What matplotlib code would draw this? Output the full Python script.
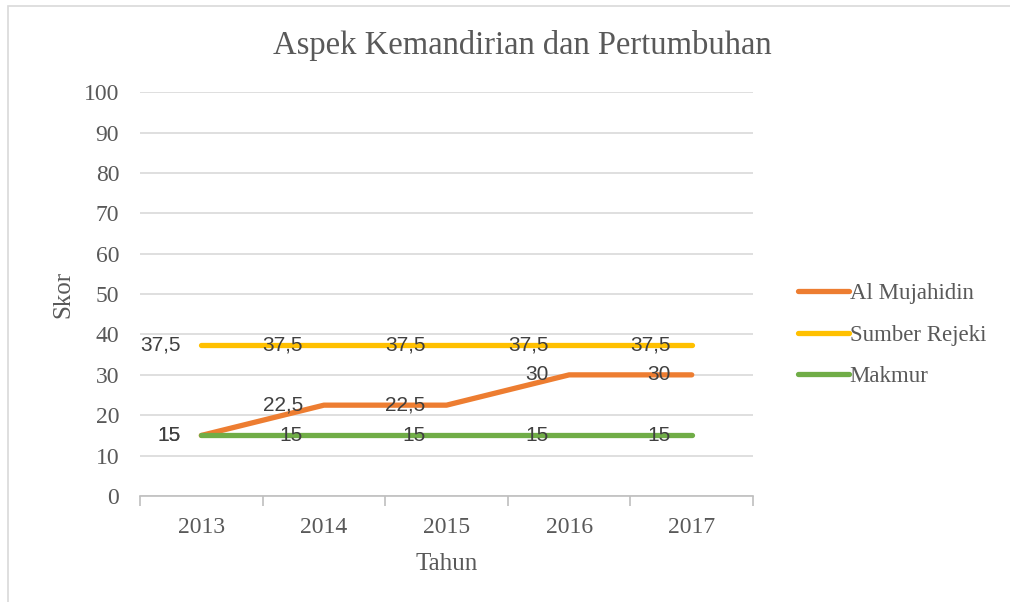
import matplotlib.pyplot as plt
from matplotlib.patches import Rectangle

tahun = ['2013', '2014', '2015', '2016', '2017']
al_mujahidin = [15, 22.5, 22.5, 30, 30]
sumber_rejeki = [37.5, 37.5, 37.5, 37.5, 37.5]
makmur = [15, 15, 15, 15, 15]

seri = [('Al Mujahidin', al_mujahidin, '#ED7D31'),
        ('Sumber Rejeki', sumber_rejeki, '#FFC000'),
        ('Makmur', makmur, '#70AD47')]

abu = '#595959'
serif = ['Liberation Serif', 'DejaVu Serif']
plt.rcParams['font.family'] = serif

fig = plt.figure(figsize=(10.1, 6.02), dpi=100)
ax = fig.add_axes([0.1386, 0.176, 0.607, 0.671])

x = list(range(len(tahun)))
for nama, nilai, warna in seri:
    ax.plot(x, nilai, color=warna, lw=3.8, solid_capstyle='round', label=nama, zorder=3)

# label data di kiri titik
for nama, nilai, warna in seri:
    for i, v in enumerate(nilai):
        lbl = ('%g' % v).replace('.', ',')
        ax.annotate(lbl, (i, v), xytext=(-15, 0), textcoords='offset points',
                    ha='right', va='center', fontsize=15, color='#404040',
                    family=['Liberation Sans Narrow', 'Liberation Sans', 'DejaVu Sans'], zorder=4)

ax.set_xlim(-0.5, 4.5)
ax.set_ylim(0, 100)
ax.set_yticks(range(0, 101, 10))
ax.set_xticks(x)
ax.set_xticklabels(tahun)
ax.set_xticks([i - 0.5 for i in range(6)], minor=True)
ax.grid(axis='y', color='#d9d9d9', lw=1.2)
ax.set_axisbelow(True)
for s in ['top', 'right', 'left']:
    ax.spines[s].set_visible(False)
ax.spines['bottom'].set_color('#bfbfbf')
ax.spines['bottom'].set_linewidth(1.2)
ax.tick_params(axis='y', length=0, labelsize=17, labelcolor=abu, pad=15)
ax.tick_params(axis='x', which='major', length=0, labelsize=17, labelcolor=abu, pad=15)
ax.tick_params(axis='x', which='minor', length=7, color='#bfbfbf', width=1.2)

ax.set_xlabel('Tahun', fontsize=18, color=abu, labelpad=11)
ax.set_ylabel('Skor', fontsize=18, color=abu, labelpad=7)
fig.text(0.517, 0.925, 'Aspek Kemandirian dan Pertumbuhan', ha='center', va='center',
         fontsize=23.5, color=abu)

ax.legend(loc='center left', bbox_to_anchor=(1.04, 0.398), frameon=False, fontsize=16.5,
          labelcolor=abu, handlelength=2.2, handletextpad=0.05, labelspacing=0.9)

fig.patches.append(Rectangle((0.008, -0.01), 0.995, 1.0, transform=fig.transFigure,
                             fill=False, edgecolor='#d9d9d9', lw=1.2))

fig.savefig('out.png', dpi=100)
